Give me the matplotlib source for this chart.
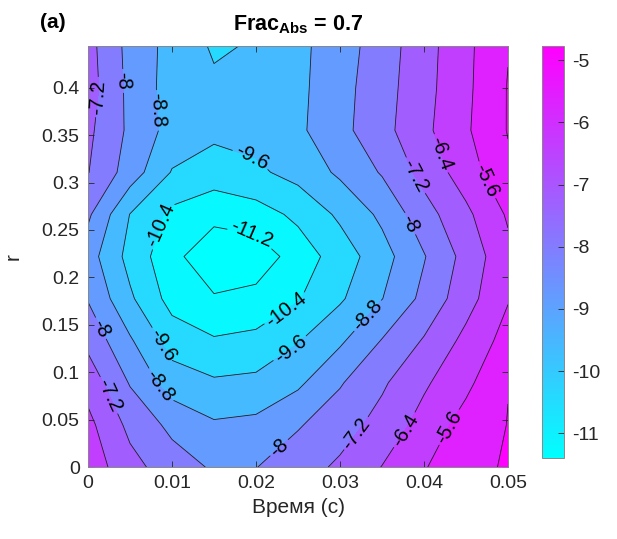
import numpy as np
import matplotlib.pyplot as plt
from matplotlib import cm, colors

plt.rcParams['font.family'] = ['Liberation Sans', 'DejaVu Sans']
plt.rcParams['mathtext.fontset'] = 'custom'
plt.rcParams['mathtext.rm'] = 'Liberation Sans'
plt.rcParams['mathtext.bf'] = 'Liberation Sans:bold'
plt.rcParams['axes.unicode_minus'] = False

# grid: time (s) along x, radius r along y
t = np.linspace(0, 0.05, 11)
r = np.linspace(0, 0.444, 11)

# log-value field, one row per r (bottom to top), one column per t
z = np.array([
    [-5.92, -6.93, -7.62, -8.10, -8.02, -7.56, -7.06, -6.38, -5.67, -4.89, -4.77],
    [-6.18, -7.41, -8.20, -8.70, -8.60, -8.07, -7.55, -6.91, -6.10, -5.28, -4.78],
    [-6.70, -8.06, -9.20, -9.49, -9.40, -8.95, -8.07, -7.32, -6.52, -5.79, -4.82],
    [-7.42, -8.70, -9.95, -10.32, -10.20, -9.65, -8.93, -7.96, -7.13, -6.18, -5.30],
    [-8.05, -9.47, -10.70, -11.12, -10.94, -10.46, -9.71, -8.82, -7.79, -6.72, -5.65],
    [-8.44, -9.87, -10.96, -11.80, -11.70, -10.82, -10.04, -9.12, -8.05, -6.93, -5.81],
    [-7.86, -9.62, -10.60, -10.95, -10.74, -10.23, -9.45, -8.63, -7.53, -6.58, -5.50],
    [-7.17, -8.37, -9.65, -10.00, -9.75, -9.32, -8.66, -7.93, -6.93, -6.00, -4.95],
    [-7.03, -8.16, -9.10, -9.40, -9.30, -8.95, -8.24, -7.47, -6.59, -5.71, -4.76],
    [-6.85, -8.21, -9.15, -9.46, -9.45, -8.99, -8.28, -7.53, -6.67, -5.77, -4.76],
    [-6.92, -8.26, -9.08, -9.70, -9.53, -9.00, -8.37, -7.60, -6.72, -5.79, -4.84],
])

levels = [-11.2, -10.4, -9.6, -8.8, -8.0, -7.2, -6.4, -5.6, -4.8]
clim = (-11.4, -4.77)

xticks = [0, 0.01, 0.02, 0.03, 0.04, 0.05]
xticklabels = ['0', '0.01', '0.02', '0.03', '0.04', '0.05']
yticks = [0, 0.05, 0.1, 0.15, 0.2, 0.25, 0.3, 0.35, 0.4]
yticklabels = ['0', '0.05', '0.1', '0.15', '0.2', '0.25', '0.3', '0.35', '0.4']
cbticks = [-11, -10, -9, -8, -7, -6, -5]

# where the inline level labels sit (t, r)
label_pos = [
    (0.0013, 0.390), (0.0039, 0.407), (0.0081, 0.376), (0.0194, 0.324),
    (0.0095, 0.253), (0.0194, 0.240), (0.0238, 0.163), (0.0242, 0.123),
    (0.0086, 0.127), (0.0083, 0.084), (0.0010, 0.144), (0.0021, 0.074),
    (0.0232, 0.016), (0.0323, 0.033), (0.0379, 0.038), (0.0430, 0.042),
    (0.0335, 0.158), (0.0382, 0.256), (0.0387, 0.306), (0.0418, 0.330),
    (0.0471, 0.301),
]

fig = plt.figure(figsize=(6.17, 5.39), dpi=100)
ax = fig.add_axes([88 / 617, 72 / 539, 420 / 617, 421 / 539])

# each band takes the colour of its lower bound
cmap = plt.get_cmap('cool')
bounds = [z.min()] + levels + [z.max()]
norm = colors.Normalize(*clim)
band_colors = [cmap(np.clip(norm(b), 0, 1)) for b in bounds[:-1]]

ax.contourf(t, r, z, levels=bounds, colors=band_colors)
cs = ax.contour(t, r, z, levels=levels, colors='#202020', linewidths=0.6,
                linestyles='solid')
ax.clabel(cs, fmt=lambda v: f'{v:g}', fontsize=14.5, inline=True,
          inline_spacing=3, manual=label_pos, colors='k')

ax.set_xlim(0, 0.05)
ax.set_ylim(0, 0.444)
ax.set_xticks(xticks)
ax.set_xticklabels(xticklabels)
ax.set_yticks(yticks)
ax.set_yticklabels(yticklabels)
ax.tick_params(direction='in', top=True, right=True, length=4, width=0.6,
               labelsize=14, colors='#262626', pad=6)
for s in ax.spines.values():
    s.set_color('#888888')
    s.set_linewidth(0.7)
ax.set_xlabel('Время (с)', fontsize=15, color='#262626', labelpad=4)
ax.set_ylabel('r', fontsize=15, color='#262626', labelpad=14)

fig.text(298 / 617, 1 - 30 / 539, r'Frac$_{\mathbf{Abs}}$ = 0.7',
         ha='center', va='baseline', fontsize=15.5, fontweight='bold')
fig.text(40 / 617, 1 - 28 / 539, '(a)', ha='left', va='baseline',
         fontsize=15, fontweight='bold')

cax = fig.add_axes([542 / 617, 81 / 539, 22 / 617, 412 / 539])
sm = cm.ScalarMappable(norm=norm, cmap=cmap)
cb = fig.colorbar(sm, cax=cax, ticks=cbticks)
cb.outline.set_edgecolor('#888888')
cb.outline.set_linewidth(0.7)
cax.tick_params(direction='in', length=4, width=0.6, labelsize=14,
                colors='#262626', pad=6)

fig.savefig('out.png', dpi=100)
